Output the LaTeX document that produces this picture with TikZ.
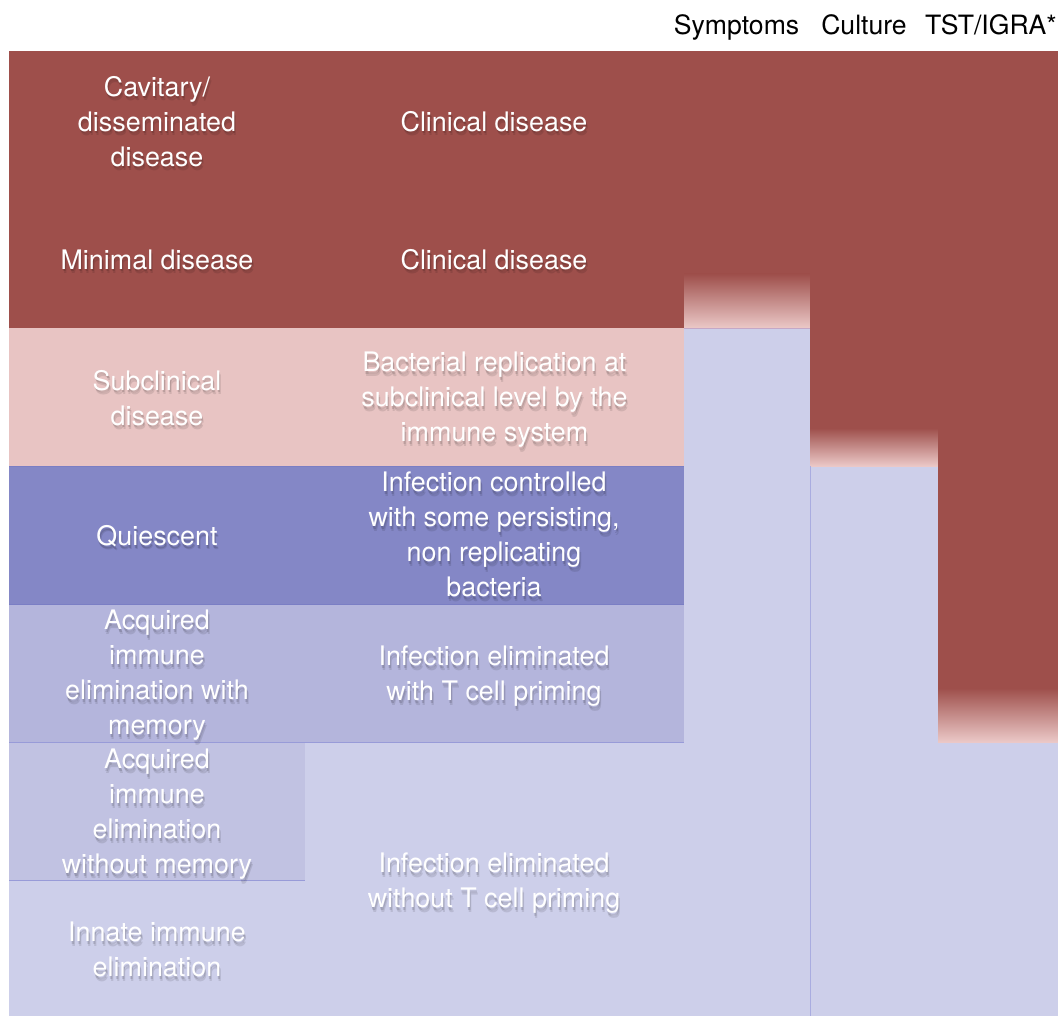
\documentclass[tikz,border=0pt]{standalone}
\usepackage{fontspec}
\setmainfont{TeX Gyre Heros}

\definecolor{disease}{HTML}{9E4F4B}
\definecolor{fade}{HTML}{EBC8C7}
\definecolor{subclin}{HTML}{E8C4C3}
\definecolor{quiesc}{HTML}{8487C6}
\definecolor{memory}{HTML}{B4B5DC}
\definecolor{nomemory}{HTML}{C1C2E2}
\definecolor{cleared}{HTML}{CDCFEA}
\definecolor{ruledark}{HTML}{7A7EC4}
\definecolor{rulelight}{HTML}{989BD8}
\definecolor{ruleedge}{HTML}{A9ACE0}
\definecolor{rulepink}{HTML}{C4A8C6}

\tikzset{
  celltxt/.style={inner sep=0pt, align=center,
    font=\fontsize{26.9}{35}\selectfont,
    execute at begin node={\rule[-8pt]{0pt}{35pt}},
    execute at end node={\rule[-8pt]{0pt}{35pt}}},
  headtxt/.style={inner sep=0pt, anchor=base, text=black,
    font=\fontsize{26.6}{32}\selectfont},
  fadeband/.style={top color=disease, bottom color=fade, draw=none},
}

% white label with a soft drop shadow
\newcommand\celllabel[3]{%
  \node[celltxt, text=black, text opacity=0.12, xshift=0.8pt, yshift=-2.5pt] (#1-sa) at (#2) {#3};
  \node[celltxt, text=black, text opacity=0.10, xshift=1.6pt, yshift=-4.2pt] (#1-sb) at (#2) {#3};
  \node[celltxt, text=white] (#1) at (#2) {#3};
}

\begin{document}
\begin{tikzpicture}[x=1pt, y=-1pt]
\useasboundingbox (0,0) rectangle (1058,1016);

% base area: cleared infection
\fill[cleared] (9,51) rectangle (1058,1016);

% stage rows
\fill[disease]  (9,51)  rectangle (684,328);
\fill[subclin]  (9,328) rectangle (684,466);
\fill[quiesc]   (9,466) rectangle (684,604);
\fill[memory]   (9,604) rectangle (684,742);
\fill[nomemory] (9,742) rectangle (305,880);

\draw[ruledark, line width=0.8pt]  (9,466) -- (684,466);
\draw[ruledark, line width=0.8pt]  (9,604) -- (684,604);
\draw[rulelight, line width=0.8pt] (9,742) -- (684,742);
\draw[rulelight, line width=0.8pt] (9,880) -- (305,880);

% test columns: symptoms, culture, TST/IGRA
\fill[disease] (684,51) rectangle (810,274);
\shade[fadeband] (684,274) rectangle (810,328);
\draw[rulepink, line width=0.8pt] (684,328) -- (810,328);

\fill[disease] (810,51) rectangle (938,428);
\shade[fadeband] (810,428) rectangle (938,466);
\draw[ruleedge, line width=0.8pt] (810,466) -- (810,1016);

\fill[disease] (938,51) rectangle (1058,688);
\shade[fadeband] (938,688) rectangle (1058,742);

% column headings
\node[headtxt] (symptoms) at (736.5,34.5) {Symptoms};
\node[headtxt] (culture)  at (864,34.5) {Culture};
\node[headtxt] (tst)      at (991,34.5) {TST/IGRA*};

% stage names
\celllabel{cavitary}{157,125}{Cavitary/\\disseminated\\disease}
\celllabel{minimal}{157,260}{Minimal disease}
\celllabel{subclinical}{157,401.5}{Subclinical\\disease}
\celllabel{quiescent}{157,536}{Quiescent}
\celllabel{acqmem}{157,676.5}{Acquired\\immune\\elimination with\\memory}
\celllabel{acqnomem}{157,815.5}{Acquired\\immune\\elimination\\without memory}
\celllabel{innate}{157,953.5}{Innate immune\\elimination}

% stage descriptions
\celllabel{clinicalA}{494,122}{Clinical disease}
\celllabel{clinicalB}{494,260}{Clinical disease}
\celllabel{replication}{494.5,401}{Bacterial replication at\\subclinical level by the\\immune system}
\celllabel{controlled}{494,538.5}{Infection controlled\\with some persisting,\\non replicating\\bacteria}
\celllabel{primed}{494,677.5}{Infection eliminated\\with T cell priming}
\celllabel{unprimed}{494,884.5}{Infection eliminated\\without T cell priming}
\end{tikzpicture}
\end{document}
